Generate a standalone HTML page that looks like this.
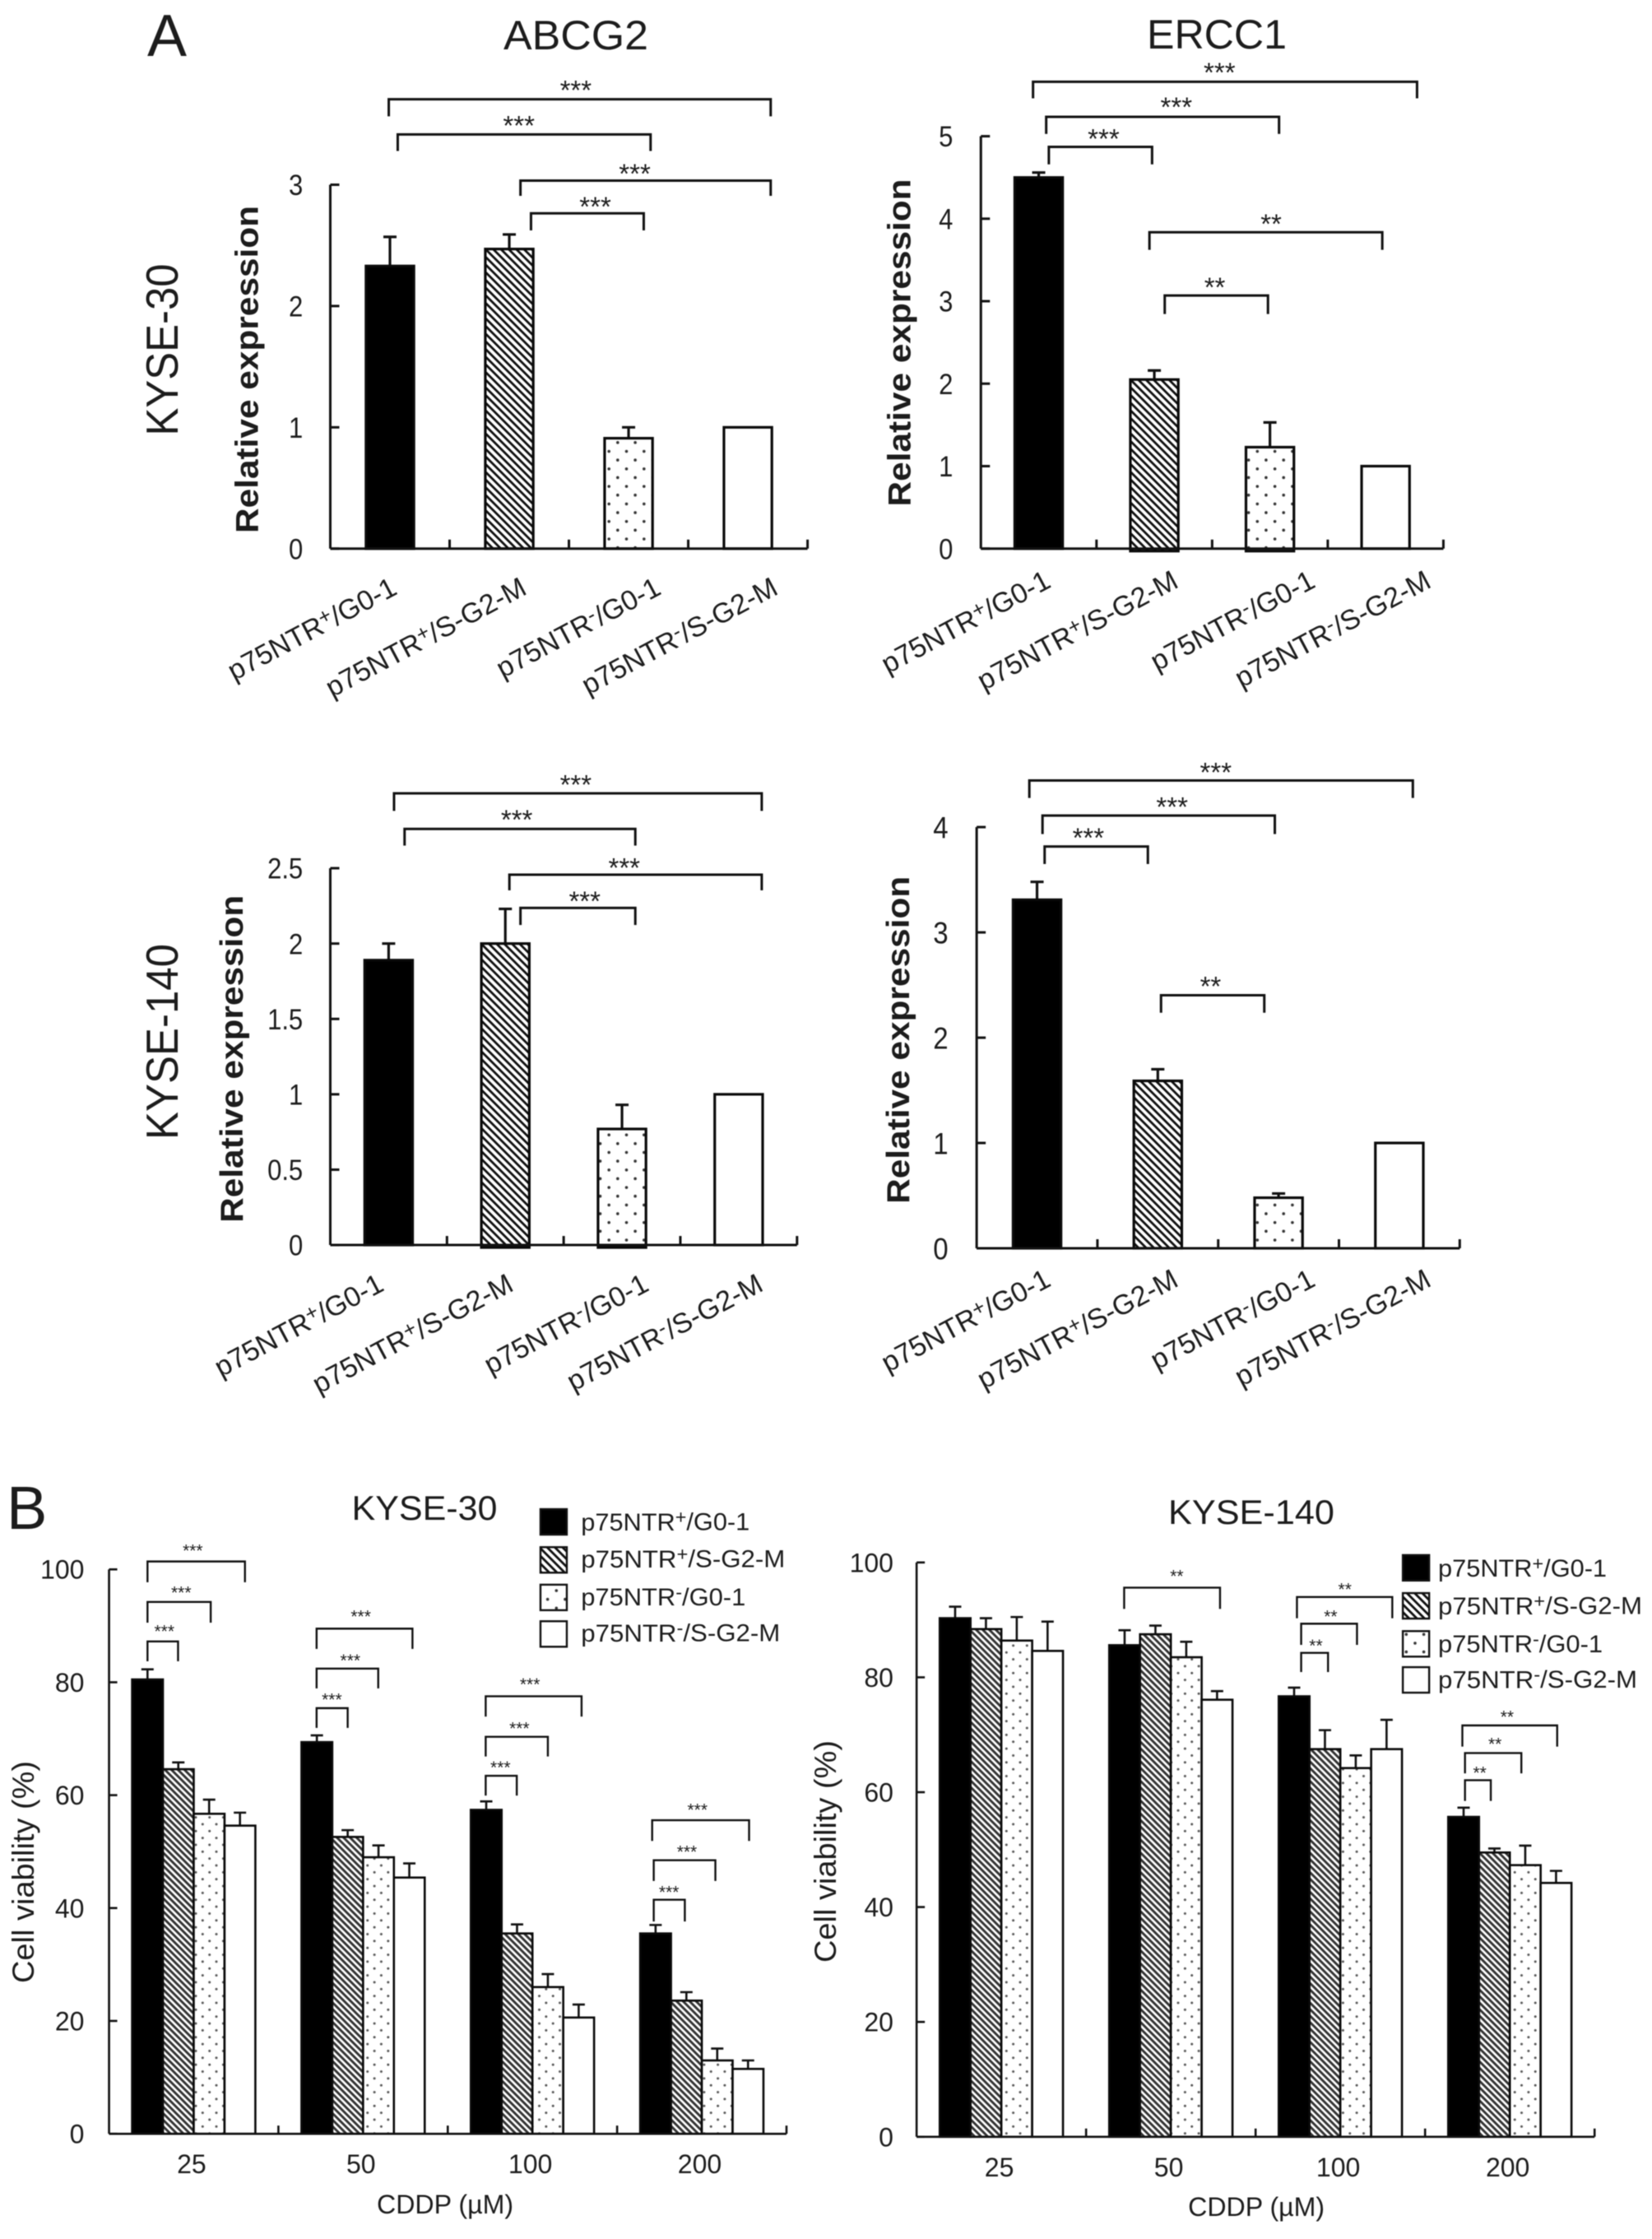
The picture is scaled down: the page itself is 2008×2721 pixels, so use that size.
<!DOCTYPE html>
<html>
<head>
<meta charset="utf-8">
<title>p75NTR expression and cell viability</title>
<style>
html,body{margin:0;padding:0;background:#fff;}
svg{display:block;filter:blur(0.6px);}
text{font-family:"Liberation Sans",Arial,sans-serif;fill:#1c1c1c;}
</style>
</head>
<body>
<svg id="figure" xmlns="http://www.w3.org/2000/svg" width="2008" height="2721" viewBox="0 0 2008 2721">
  <defs>
    <pattern id="hatch-a" patternUnits="userSpaceOnUse" width="6.6" height="6.6" patternTransform="rotate(45)">
      <rect width="6.6" height="6.6" fill="#fff"/><rect y="0" width="6.6" height="2.8" fill="#111"/>
    </pattern>
    <pattern id="hatch-b" patternUnits="userSpaceOnUse" width="5.6" height="5.6" patternTransform="rotate(45)">
      <rect width="5.6" height="5.6" fill="#fff"/><rect y="0" width="5.6" height="2.9" fill="#333"/>
    </pattern>
    <pattern id="dots-a" patternUnits="userSpaceOnUse" width="21.3" height="21.3">
      <rect width="21.3" height="21.3" fill="#fff"/><circle cx="5.3" cy="5.3" r="1.8" fill="#333"/><circle cx="16" cy="16" r="1.8" fill="#333"/>
    </pattern>
    <pattern id="dots-b" patternUnits="userSpaceOnUse" width="16.7" height="16.7">
      <rect width="16.7" height="16.7" fill="#fff"/><circle cx="4.2" cy="4.2" r="1.5" fill="#555"/><circle cx="12.5" cy="12.5" r="1.5" fill="#555"/>
    </pattern>
  </defs>
  <g id="root"></g>
</svg>
<script>
// ---------- data ----------
const cellCategories = ['p75NTR+/G0-1', 'p75NTR+/S-G2-M', 'p75NTR-/G0-1', 'p75NTR-/S-G2-M'];
const doseCategories = ['25', '50', '100', '200'];

const abcg2Kyse30Ticks = ['0', '1', '2', '3'];
const abcg2Kyse30Means = [2.33, 2.47, 0.91, 1.0];
const abcg2Kyse30Errors = [0.24, 0.12, 0.09, 0];

const ercc1Kyse30Ticks = ['0', '1', '2', '3', '4', '5'];
const ercc1Kyse30Means = [4.5, 2.05, 1.23, 1.0];
const ercc1Kyse30Errors = [0.06, 0.11, 0.3, 0];

const abcg2Kyse140Ticks = ['0', '0.5', '1', '1.5', '2', '2.5'];
const abcg2Kyse140Means = [1.89, 2.0, 0.77, 1.0];
const abcg2Kyse140Errors = [0.11, 0.23, 0.16, 0];

const ercc1Kyse140Ticks = ['0', '1', '2', '3', '4'];
const ercc1Kyse140Means = [3.31, 1.59, 0.48, 1.0];
const ercc1Kyse140Errors = [0.17, 0.11, 0.04, 0];

const viabilityTicks = ['0', '20', '40', '60', '80', '100'];

const kyse30PosG01 = [80.5, 69.4, 57.4, 35.5];
const kyse30PosSG2M = [64.6, 52.6, 35.5, 23.6];
const kyse30NegG01 = [56.7, 49.0, 26.0, 13.0];
const kyse30NegSG2M = [54.6, 45.4, 20.6, 11.5];
const kyse30ErrPosG01 = [1.8, 1.2, 1.5, 1.5];
const kyse30ErrPosSG2M = [1.2, 1.2, 1.6, 1.5];
const kyse30ErrNegG01 = [2.5, 2.1, 2.3, 2.1];
const kyse30ErrNegSG2M = [2.3, 2.5, 2.3, 1.5];

const kyse140PosG01 = [90.3, 85.6, 76.7, 55.7];
const kyse140PosSG2M = [88.4, 87.5, 67.5, 49.5];
const kyse140NegG01 = [86.4, 83.5, 64.2, 47.3];
const kyse140NegSG2M = [84.6, 76.1, 67.5, 44.2];
const kyse140ErrPosG01 = [2.0, 2.6, 1.5, 1.6];
const kyse140ErrPosSG2M = [1.9, 1.5, 3.3, 0.7];
const kyse140ErrNegG01 = [4.1, 2.7, 2.2, 3.4];
const kyse140ErrNegSG2M = [5.1, 1.5, 5.1, 2.1];

const legendLabelWidths = [205, 248, 200, 242];

// ---------- helpers ----------
const NS = 'http://www.w3.org/2000/svg';
const root = document.getElementById('root');
const F = 1004 / 1568;      // horizontal measuring scale
const FY_A = 880 / 1568;    // vertical measuring scale, panel A
const FY_B = 941 / 1568;    // vertical measuring scale, panel B

function el(tag, parent, name, attrs) {
  const e = document.createElementNS(NS, tag);
  
  
  for (const k in attrs) e.setAttribute(k, attrs[k]);
  parent.appendChild(e);
  return e;
}

function txt(parent, name, str, x, y, o) {
  o = o || {};
  const a = { x: x, y: y, 'font-size': o.size || 34, 'text-anchor': o.anchor || 'start' };
  if (o.weight) a['font-weight'] = o.weight;
  if (o.rot !== undefined) a.transform = 'rotate(' + o.rot + ' ' + x + ' ' + y + ')';
  if (o.len) { a.textLength = o.len; a.lengthAdjust = 'spacingAndGlyphs'; }
  const t = el('text', parent, name, a);
  const m = str.match(/^(p75NTR)([+-])(\/.*)$/);
  if (m) {
    const s1 = document.createElementNS(NS, 'tspan'); s1.textContent = m[1]; t.appendChild(s1);
    const s2 = document.createElementNS(NS, 'tspan'); s2.textContent = m[2];
    s2.setAttribute('font-size', '76%'); s2.setAttribute('dy', '-0.36em'); t.appendChild(s2);
    const s3 = document.createElementNS(NS, 'tspan'); s3.textContent = m[3];
    s3.setAttribute('dy', '0.27em'); t.appendChild(s3);
  } else {
    t.textContent = str;
  }
  return t;
}

function bracket(parent, p, x1, x2, y, drop, label, lx, ly, size, sw) {
  const X1 = p.ox + x1 * F, X2 = p.ox + x2 * F, Y = p.oy + y * p.fy, D = p.oy + drop * p.fy;
  const g = el('g', parent, 'significance-bracket', {});
  el('path', g, 'bracket-line', { d: 'M' + X1 + ' ' + D + 'V' + Y + 'H' + X2 + 'V' + D, fill: 'none', stroke: '#111', 'stroke-width': sw });
  txt(g, 'significance-stars', label, p.ox + lx * F, p.oy + ly * p.fy + size * 0.5, { size: size, anchor: 'middle' });
}

function drawAxes(g, p, tickLabels, tickMax, yScale, sw) {
  const X = v => p.ox + v * F;
  const axis = el('g', g, 'axes', {});
  el('path', axis, 'y-axis', { d: 'M' + X(p.axisX) + ' ' + yScale(tickMax) + 'V' + yScale(0), fill: 'none', stroke: '#111', 'stroke-width': sw });
  el('path', axis, 'x-axis', { d: 'M' + X(p.axisX) + ' ' + yScale(0) + 'H' + X(p.right), fill: 'none', stroke: '#111', 'stroke-width': sw });
  tickLabels.forEach(function (lab) {
    const y = yScale(parseFloat(lab));
    el('path', axis, 'y-tick', { d: 'M' + X(p.axisX) + ' ' + y + 'h' + p.tickLen, stroke: '#111', 'stroke-width': sw, fill: 'none' });
    const o = { size: p.tickSize, anchor: 'end' };
    if (p.tickEm) {
      const em = lab.replace(/\./g, '').length * 0.556 + (lab.indexOf('.') >= 0 ? 0.278 : 0);
      o.len = em * p.tickEm;
    }
    txt(axis, 'y-tick-label', lab, X(p.tickRight), y + p.tickSize * 0.36, o);
  });
  for (let i = 1; i <= 4; i++) {
    const x = X(p.axisX + (p.right - p.axisX) * i / 4);
    el('path', axis, 'x-tick', { d: 'M' + x + ' ' + yScale(0) + 'v' + (-p.tickLen), stroke: '#111', 'stroke-width': sw, fill: 'none' });
  }
}

function drawBar(g, name, x, w, yTop, yBottom, err, fill, sw, capW) {
  const bar = el('g', g, name, {});
  if (err > 0) {
    const cx = x + w / 2;
    el('path', bar, 'error-bar', { d: 'M' + cx + ' ' + yTop + 'V' + err + 'M' + (cx - capW / 2) + ' ' + err + 'H' + (cx + capW / 2), fill: 'none', stroke: '#111', 'stroke-width': sw });
  }
  el('rect', bar, 'bar-rect', { x: x, y: yTop, width: w, height: Math.max(0, yBottom - yTop), fill: fill, stroke: '#0a0a0a', 'stroke-width': sw });
}

// Panel A: four single bars per chart
function expressionChart(p, name, ticks, tickMax, means, errors) {
  const g = el('g', root, name, {});
  const yScale = v => p.oy + (p.axisY - (p.axisY - p.topTick) * v / tickMax) * p.fy;
  const xBand = i => p.ox + (p.axisX + (p.right - p.axisX) * (i + 0.5) / 4) * F;
  const fills = ['#000', 'url(#hatch-a)', 'url(#dots-a)', '#fff'];
  const barW = 91 * F;
  means.forEach(function (m, i) {
    const sink = (p.sink && (i === 1 || i === 2)) ? 3 : 0;
    drawBar(g, 'bar-' + cellCategories[i], xBand(i) - barW / 2, barW, yScale(m), yScale(0) + sink, errors[i] ? yScale(m + errors[i]) : 0, fills[i], 3.2, 16);
  });
  drawAxes(g, p, ticks, tickMax, yScale, 3);
  cellCategories.forEach(function (c, i) {
    const e = p.labelEnds[i];
    txt(g, 'x-category-label', c, p.ox + e * F, p.oy + p.labelY * p.fy, { size: 34, anchor: 'end', rot: -28 });
  });
  txt(g, 'y-axis-title', 'Relative expression', p.ox + p.titleX * F, p.oy + p.titleY * p.fy, { size: 39, weight: 'bold', anchor: 'middle', rot: -90, len: 398 });
  return g;
}

// Panel B: grouped bars
function viabilityChart(p, name, seriesValues, seriesErrors) {
  const g = el('g', root, name, {});
  const yScale = v => p.oy + (p.axisY - (p.axisY - p.topTick) * v / 100) * p.fy;
  const xBand = i => p.ox + (p.axisX + (p.right - p.axisX) * (i + 0.5) / 4) * F;
  const fills = ['#000', 'url(#hatch-b)', 'url(#dots-b)', '#fff'];
  const barW = 58.5 * F;
  doseCategories.forEach(function (d, i) {
    const left = xBand(i) - 2 * barW;
    seriesValues.forEach(function (vals, s) {
      drawBar(g, 'bar-dose-' + d + '-series-' + s, left + s * barW, barW, yScale(vals[i]), yScale(0), yScale(vals[i] + seriesErrors[s][i]), fills[s], 2.6, 15);
    });
    txt(g, 'x-dose-label', d, xBand(i) - 4 * F, p.oy + p.doseY * p.fy, { size: 32, anchor: 'middle' });
  });
  drawAxes(g, p, viabilityTicks, 100, yScale, 2.6);
  txt(g, 'x-axis-title', 'CDDP (µM)', p.ox + p.cddpX * F, p.oy + p.cddpY * p.fy, { size: 32, anchor: 'middle', len: 166 });
  return g;
}

function legend(parent, p, rows) {
  const g = el('g', parent, 'legend', {});
  const fills = ['#000', 'url(#hatch-a)', 'url(#dots-a)', '#fff'];
  cellCategories.forEach(function (c, i) {
    const r = rows[i];
    const e = el('g', g, 'legend-entry', {});
    el('rect', e, 'legend-swatch', { x: p.ox + p.lx * F, y: p.oy + r[0] * p.fy, width: 32, height: 31, fill: fills[i], stroke: '#111', 'stroke-width': 2.4 });
    txt(e, 'legend-label', c, p.ox + p.ltx * F, p.oy + r[1] * p.fy, { size: 30, len: legendLabelWidths[i] });
  });
}

// ---------- build ----------
const pA1 = { ox: 0, oy: 0, fy: FY_A, axisX: 627, axisY: 1188, topTick: 400, right: 1533, tickLen: 11, tickRight: 575, tickSize: 35, tickEm: 31, labelEnds: [757, 1003, 1258, 1480], labelY: 1285, titleX: 490, titleY: 800 };
const pA2 = { ox: 1004, oy: 0, fy: FY_A, axisX: 294, axisY: 1188, topTick: 295, right: 1172, tickLen: 11, tickRight: 241, tickSize: 35, tickEm: 31, labelEnds: [430, 672, 932, 1152], labelY: 1270, titleX: 160, titleY: 742, sink: true };
const pA3 = { ox: 0, oy: 880, fy: FY_A, axisX: 627, axisY: 1128, topTick: 312, right: 1513, tickLen: 11, tickRight: 575, tickSize: 35, tickEm: 31, labelEnds: [732, 978, 1235, 1452], labelY: 1225, titleX: 461, titleY: 725, sink: true };
const pA4 = { ox: 1004, oy: 880, fy: FY_A, axisX: 286, axisY: 1135, topTick: 223, right: 1203, tickLen: 11, tickRight: 232, tickSize: 37, tickEm: 33, labelEnds: [430, 672, 932, 1152], labelY: 1215, titleX: 158, titleY: 684 };
const pB1 = { ox: 0, oy: 1780, fy: FY_B, axisX: 207, axisY: 1355, topTick: 212, right: 1493, tickLen: 10, tickRight: 160, tickSize: 32, doseY: 1435, cddpX: 845, cddpY: 1516, lx: 1026, ltx: 1103 };
const pB2 = { ox: 1004, oy: 1780, fy: FY_B, axisX: 172, axisY: 1361, topTick: 198, right: 1459, tickLen: 10, tickRight: 128, tickSize: 32, doseY: 1441, cddpX: 817, cddpY: 1521, lx: 1095, ltx: 1162 };

const chartA1 = expressionChart(pA1, 'abcg2-kyse30-chart', abcg2Kyse30Ticks, 3, abcg2Kyse30Means, abcg2Kyse30Errors);
const chartA2 = expressionChart(pA2, 'ercc1-kyse30-chart', ercc1Kyse30Ticks, 5, ercc1Kyse30Means, ercc1Kyse30Errors);
const chartA3 = expressionChart(pA3, 'abcg2-kyse140-chart', abcg2Kyse140Ticks, 2.5, abcg2Kyse140Means, abcg2Kyse140Errors);
const chartA4 = expressionChart(pA4, 'ercc1-kyse140-chart', ercc1Kyse140Ticks, 4, ercc1Kyse140Means, ercc1Kyse140Errors);
const chartB1 = viabilityChart(pB1, 'viability-kyse30-chart', [kyse30PosG01, kyse30PosSG2M, kyse30NegG01, kyse30NegSG2M], [kyse30ErrPosG01, kyse30ErrPosSG2M, kyse30ErrNegG01, kyse30ErrNegSG2M]);
const chartB2 = viabilityChart(pB2, 'viability-kyse140-chart', [kyse140PosG01, kyse140PosSG2M, kyse140NegG01, kyse140NegSG2M], [kyse140ErrPosG01, kyse140ErrPosSG2M, kyse140ErrNegG01, kyse140ErrNegSG2M]);

// significance brackets
[[738,1463,215,252,'***',1093,186],[755,1235,291,327,'***',985,263],[988,1463,391,424,'***',1205,367],[1008,1222,462,499,'***',1130,438]]
  .forEach(function (b) { bracket(chartA1, pA1, b[0], b[1], b[2], b[3], b[4], b[5], b[6], 33, 3); });
[[393,1122,177,213,'***',747,148],[418,860,253,290,'***',665,223],[423,619,318,356,'***',527,291],[614,1056,503,541,'**',845,476],[643,839,640,680,'**',738,613]]
  .forEach(function (b) { bracket(chartA2, pA2, b[0], b[1], b[2], b[3], b[4], b[5], b[6], 33, 3); });
[[748,1446,150,188,'***',1093,122],[768,1206,227,263,'***',981,198],[967,1446,326,360,'***',1185,302],[988,1206,398,435,'***',1110,374]]
  .forEach(function (b) { bracket(chartA3, pA3, b[0], b[1], b[2], b[3], b[4], b[5], b[6], 33, 3); });
[[386,1114,122,160,'***',740,95],[411,852,198,238,'***',657,170],[415,611,265,303,'***',498,237],[636,832,587,625,'**',730,559]]
  .forEach(function (b) { bracket(chartA4, pA4, b[0], b[1], b[2], b[3], b[4], b[5], b[6], 33, 3); });
[[280,465,196,238,'***',366,168],[280,400,278,320,'***',344,253],[280,338,358,398,'***',312,332],
 [601,783,332,373,'***',685,302],[601,718,413,453,'***',665,391],[601,660,493,533,'***',630,470],
 [922,1104,469,510,'***',1006,439],[922,1040,551,591,'***',986,528],[922,981,630,670,'***',950,607],
 [1238,1422,720,762,'***',1324,693],[1241,1358,801,843,'***',1304,778],[1241,1300,881,925,'***',1270,860]]
  .forEach(function (b) { bracket(chartB1, pB1, b[0], b[1], b[2], b[3], b[4], b[5], b[6], 21, 2.4); });
[[566,748,249,292,'**',666,220],
 [894,1075,268,311,'**',985,247],[902,1008,322,365,'**',958,302],[902,953,381,420,'**',930,361],
 [1208,1388,528,571,'**',1293,505],[1213,1320,584,625,'**',1270,560],[1213,1262,639,681,'**',1241,618]]
  .forEach(function (b) { bracket(chartB2, pB2, b[0], b[1], b[2], b[3], b[4], b[5], b[6], 21, 2.4); });

legend(chartB1, pB1, [[90,133],[167,208],[243,285],[317,358]]);
legend(chartB2, pB2, [[183,227],[260,303],[337,380],[410,452]]);

// figure-level labels
txt(root, 'panel-label-a', 'A', 179, 68, { size: 72 });
txt(root, 'panel-label-b', 'B', 8, 1858, { size: 74 });
txt(root, 'title-abcg2', 'ABCG2', 700, 60, { size: 50, anchor: 'middle', len: 176 });
txt(root, 'title-ercc1', 'ERCC1', 1479, 59, { size: 50, anchor: 'middle', len: 170 });
txt(root, 'row-label-kyse30', 'KYSE-30', 216, 425, { size: 55, anchor: 'middle', rot: -90, len: 209 });
txt(root, 'row-label-kyse140', 'KYSE-140', 216, 1266, { size: 55, anchor: 'middle', rot: -90, len: 238 });
txt(root, 'title-b-kyse30', 'KYSE-30', 516, 1847, { size: 42, anchor: 'middle', len: 177 });
txt(root, 'title-b-kyse140', 'KYSE-140', 1521, 1852, { size: 42, anchor: 'middle', len: 202 });
txt(root, 'y-title-b-kyse30', 'Cell viability (%)', 41, 2275, { size: 37, anchor: 'middle', rot: -90, len: 270 });
txt(root, 'y-title-b-kyse140', 'Cell viability (%)', 1016, 2250, { size: 37, anchor: 'middle', rot: -90, len: 270 });
</script>
</body>
</html>
